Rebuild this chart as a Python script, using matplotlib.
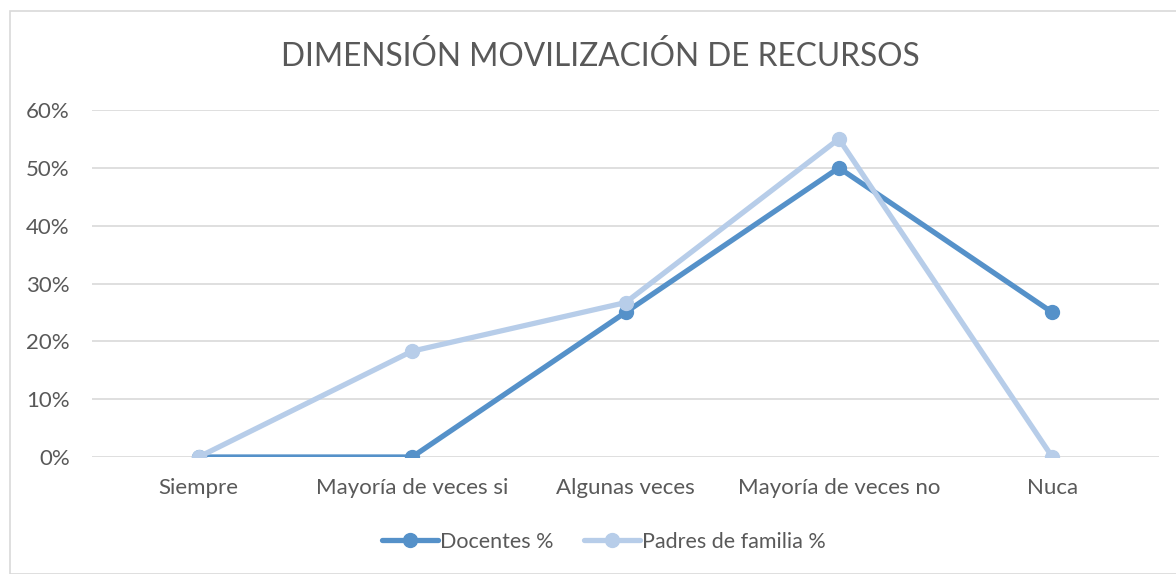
import matplotlib.pyplot as plt
from matplotlib.patches import Rectangle
from matplotlib.ticker import FuncFormatter

categorias = ["Siempre", "Mayoría de veces si", "Algunas veces", "Mayoría de veces no", "Nuca"]
docentes = [0, 0, 25, 50, 25]
padres = [0, 18.3, 26.7, 55, 0]
yticks = [0, 10, 20, 30, 40, 50, 60]

plt.rcParams['font.family'] = ['Lato', 'DejaVu Sans']

fig = plt.figure(figsize=(11.76, 5.74), dpi=100, facecolor='white')
ax = fig.add_axes([92 / 1176, 1 - 457 / 574, 1067 / 1176, 347 / 574])

# chart border like the office frame
fig.patches.append(Rectangle((10 / 1176, 0), 1.2, 1 - 11 / 574, transform=fig.transFigure,
                             fill=False, edgecolor='#D9D9D9', linewidth=1.2))

x = list(range(len(categorias)))
ax.plot(x, docentes, color='#5591C9', linewidth=3.8, marker='o', markersize=10,
        solid_capstyle='round', label='Docentes %')
ax.plot(x, padres, color='#B7CDE9', linewidth=3.8, marker='o', markersize=10,
        solid_capstyle='round', label='Padres de familia %')

ax.set_xlim(-0.5, len(categorias) - 0.5)
ax.set_ylim(0, 60)
ax.set_yticks(yticks)
ax.yaxis.set_major_formatter(FuncFormatter(lambda v, p: f"{int(v)}%"))
ax.set_xticks(x)
ax.set_xticklabels(categorias)
ax.grid(axis='y', color='#D9D9D9', linewidth=1.2)
ax.set_axisbelow(True)
for s in ax.spines.values():
    s.set_visible(False)
ax.tick_params(axis='both', length=0, labelsize=16, colors='#595959')
ax.tick_params(axis='x', pad=15)
ax.tick_params(axis='y', pad=16)

fig.text(600 / 1176, 1 - 57 / 574, "DIMENSIÓN MOVILIZACIÓN DE RECURSOS", ha='center', va='center',
         fontsize=22.8, color='#595959')

ax.legend(loc='center', bbox_to_anchor=(604 / 1176, 1 - 542 / 574), bbox_transform=fig.transFigure,
          ncol=2, frameon=False, fontsize=15.5, labelcolor='#595959', handlelength=2.6,
          handletextpad=0.1, columnspacing=1.4)

fig.savefig('out.png', dpi=100, facecolor='white')
